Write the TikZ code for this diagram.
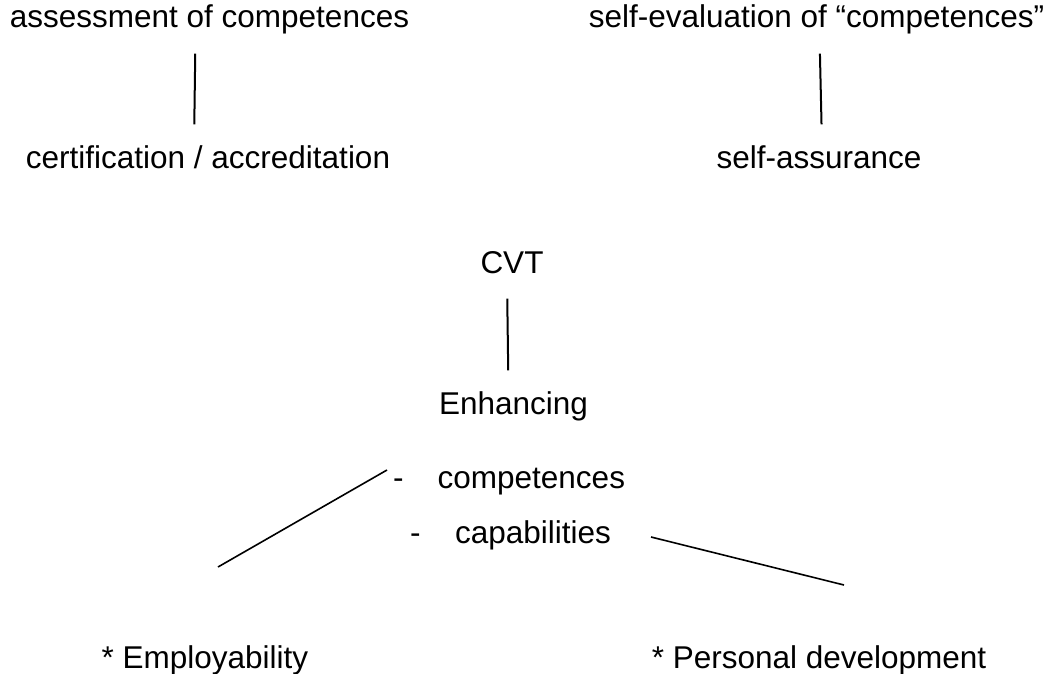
\documentclass[tikz,border=0pt]{standalone}
\usepackage{fontspec}
\setmainfont{Liberation Sans}
\usetikzlibrary{positioning}
\tikzset{x=1pt, y=-1pt, % one unit is one pixel, counted downwards
every node/.style={font=\fontsize{31.5}{38}\selectfont, inner sep=0pt, anchor=base,
  text height=22pt, text depth=6.5pt}, % plain labels, placed by their baseline
link/.style={line width=2pt, shorten <=19pt, shorten >=21.5pt}, % short bars between two labels
slant/.style={line width=1.6pt}, % the two loose strokes at the bottom
}

\begin{document}
\begin{tikzpicture}
  \useasboundingbox (0,0) rectangle (1049,674);

  \node (assess)   at (209.5,28) {assessment of competences};
  \node (selfeval) at (816.5,28) {self-evaluation of “competences”};
  \node (cert)     at (208,168)  {certification / accreditation};
  \node (selfass)  at (819,168)  {self-assurance};
  \node (cvt)      at (512,273)  {CVT};
  \node (enh)      at (513.5,414) {Enhancing};
  \node[anchor=base west] (comp)  at (393,488) {-\hspace{34pt}competences};
  \node[anchor=base west] (capab) at (410,543) {-\hspace{34.5pt}capabilities};
  \node (employ)   at (205,668)  {* Employability};
  \node (persdev)  at (819,668)  {* Personal development};

  % loose ends of the slanted strokes
  \coordinate (empl top) at (387,470);
  \coordinate (empl bot) at (218,567);
  \coordinate (pers top) at (651,537);
  \coordinate (pers bot) at (844,585);

  \draw[link] ([xshift=-14pt]assess.south) -- ([xshift=-14pt]cert.north);
  \draw[link] ([xshift=3pt]selfeval.south) -- ([xshift=3pt]selfass.north);
  \draw[link] ([xshift=-5pt]cvt.south) -- ([xshift=-5pt]enh.north);
  \draw[slant] (empl bot) -- (empl top);
  \draw[slant] (pers top) -- (pers bot);

\end{tikzpicture}
\end{document}
